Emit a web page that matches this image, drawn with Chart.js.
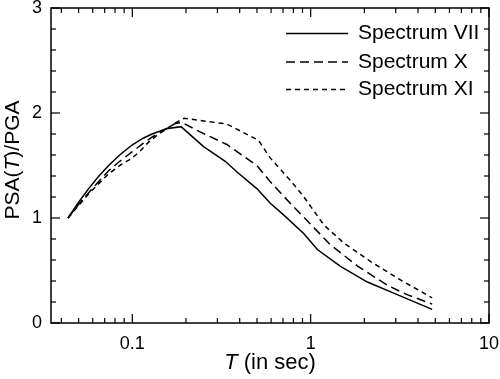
<!DOCTYPE html>
<html>
<head>
<meta charset="utf-8">
<script src="https://cdn.jsdelivr.net/npm/chart.js@4/dist/chart.umd.min.js"></script>
<style>
html,body{margin:0;padding:0;background:#fff}
#wrap{width:500px;height:379px;position:relative}
</style>
</head>
<body>
<div id="wrap"><canvas id="c" width="500" height="379"></canvas></div>
<script>
// ---- data ----
const seriesNames = ['Spectrum VII', 'Spectrum X', 'Spectrum XI'];

const periodsVII = [0.0436, 0.05, 0.0569, 0.065, 0.0736, 0.085, 0.0996, 0.115, 0.129, 0.155, 0.1875, 0.251, 0.332, 0.385, 0.499, 0.594, 0.705, 0.917, 1.09, 1.47, 2.08, 3.06, 4.8];
const psaVII     = [1.0,    1.15, 1.28,   1.40,  1.50,   1.60,  1.695,  1.76,  1.80,  1.85,  1.87,   1.68,  1.54,  1.44,  1.28,  1.14,  1.03,  0.85,  0.70, 0.54, 0.39, 0.27, 0.13];

const periodsX = [0.0436, 0.05, 0.0569, 0.065, 0.0736, 0.085, 0.0996, 0.115, 0.129, 0.155, 0.174, 0.19, 0.24, 0.339, 0.499, 0.594, 0.768, 1.0, 1.29, 1.84, 2.69, 3.47, 4.8];
const psaX     = [1.0,    1.13, 1.24,   1.35,  1.45,   1.54,  1.63,   1.71,  1.77,  1.85,  1.90,  1.91, 1.82, 1.70,  1.50,  1.345, 1.14,  0.94, 0.745, 0.54, 0.36, 0.27, 0.18];

const periodsXI = [0.0436, 0.05, 0.0569, 0.065, 0.0736, 0.085, 0.0996, 0.111, 0.123, 0.138, 0.153, 0.172, 0.195, 0.339, 0.51, 0.594, 0.768, 0.917, 1.19, 1.54, 2.17, 3.19, 4.8];
const psaXI     = [1.0,    1.12, 1.23,   1.33,  1.42,   1.50,  1.57,   1.64,  1.72,  1.79,  1.84,  1.90,  1.95,  1.895, 1.74, 1.57,  1.36,  1.20,  0.93, 0.76, 0.585, 0.41, 0.24];

const xTickValues = [0.1, 1, 10];
const yTickValues = [0, 1, 2, 3];
const xMinorTicks = [0.04, 0.05, 0.06, 0.07, 0.08, 0.09, 0.2, 0.3, 0.4, 0.5, 0.6, 0.7, 0.8, 0.9, 2, 3, 4, 5, 6, 7, 8, 9];
const yMinorTicks = [0.2, 0.4, 0.6, 0.8, 1.2, 1.4, 1.6, 1.8, 2.2, 2.4, 2.6, 2.8];

// ---- styling ----
const FONT = '"Liberation Sans", Arial, Helvetica, sans-serif';
const toPts = (xs, ys) => xs.map((x, i) => ({x: x, y: ys[i]}));

const datasets = [
  {label: seriesNames[0], data: toPts(periodsVII, psaVII), borderDash: []},
  {label: seriesNames[1], data: toPts(periodsX, psaX), borderDash: [9, 5]},
  {label: seriesNames[2], data: toPts(periodsXI, psaXI), borderDash: [5, 4]}
].map(d => Object.assign(d, {
  borderColor: '#000', backgroundColor: '#000', borderWidth: 1.5,
  pointRadius: 0, tension: 0, fill: false
}));

const framePlugin = {
  id: 'frame',
  afterDraw(chart) {
    const ctx = chart.ctx;
    const a = chart.chartArea;
    const xs = chart.scales.x, ys = chart.scales.y;
    ctx.save();
    ctx.strokeStyle = '#000';
    ctx.lineWidth = 1.5;
    ctx.setLineDash([]);
    ctx.strokeRect(a.left, a.top, a.right - a.left, a.bottom - a.top);
    ctx.lineWidth = 1.2;
    const tick = (x1, y1, x2, y2) => { ctx.beginPath(); ctx.moveTo(x1, y1); ctx.lineTo(x2, y2); ctx.stroke(); };
    const MAJ = 9, MIN = 5;
    xTickValues.forEach(v => { const p = xs.getPixelForValue(v); tick(p, a.bottom, p, a.bottom - MAJ); tick(p, a.top, p, a.top + MAJ); });
    xMinorTicks.forEach(v => { const p = xs.getPixelForValue(v); tick(p, a.bottom, p, a.bottom - MIN); tick(p, a.top, p, a.top + MIN); });
    yTickValues.forEach(v => { const p = ys.getPixelForValue(v); tick(a.left, p, a.left + MAJ, p); tick(a.right, p, a.right - MAJ, p); });
    yMinorTicks.forEach(v => { const p = ys.getPixelForValue(v); tick(a.left, p, a.left + MIN, p); tick(a.right, p, a.right - MIN, p); });

    // axis titles with italic T
    ctx.fillStyle = '#000';
    ctx.textBaseline = 'middle';
    const drawParts = (parts, cx, cy) => {
      let total = 0;
      parts.forEach(p => { ctx.font = p.f; p.w = ctx.measureText(p.t).width; total += p.w; });
      let x = cx - total / 2;
      ctx.textAlign = 'left';
      parts.forEach(p => { ctx.font = p.f; ctx.fillText(p.t, x, cy); x += p.w; });
    };
    const N2 = '22px ' + FONT, I2 = 'italic 22px ' + FONT;
    drawParts([{t: 'T', f: I2}, {t: ' (in sec)', f: N2}], (a.left + a.right) / 2, 363);
    const N1 = '21px ' + FONT, I1 = 'italic 21px ' + FONT;
    ctx.save();
    ctx.translate(13, 160);
    ctx.rotate(-Math.PI / 2);
    drawParts([{t: 'PSA(', f: N1}, {t: 'T', f: I1}, {t: ')/PGA', f: N1}], 0, 0);
    ctx.restore();

    // legend
    const rows = [33.5, 62, 89.5];
    ctx.font = '21px ' + FONT;
    chart.data.datasets.forEach((d, i) => {
      ctx.lineWidth = 1.5;
      ctx.setLineDash(d.borderDash);
      tick(286, rows[i], 348, rows[i]);
      ctx.setLineDash([]);
      ctx.fillText(d.label, 358, rows[i]);
    });
    ctx.restore();
  }
};

new Chart(document.getElementById('c'), {
  type: 'line',
  data: {datasets: datasets},
  options: {
    responsive: false,
    devicePixelRatio: 1,
    animation: false,
    layout: {padding: {top: 8, right: 11, left: 0, bottom: 0}},
    plugins: {legend: {display: false}, tooltip: {enabled: false}, title: {display: false}},
    scales: {
      x: {
        type: 'logarithmic', min: 0.035, max: 10,
        afterBuildTicks: s => { s.ticks = xTickValues.map(v => ({value: v})); },
        afterFit: s => { s.height = 56; s.paddingLeft = 0; s.paddingRight = 0; },
        ticks: {color: '#000', font: {family: FONT, size: 18}, padding: 10, maxRotation: 0, autoSkip: false,
                callback: v => String(v)},
        grid: {display: false, drawTicks: false},
        border: {display: false}
      },
      y: {
        type: 'linear', min: 0, max: 3,
        afterBuildTicks: s => { s.ticks = yTickValues.map(v => ({value: v})); },
        afterFit: s => { s.width = 51; s.paddingTop = 0; s.paddingBottom = 0; },
        ticks: {color: '#000', font: {family: FONT, size: 18}, padding: 9, callback: v => String(v)},
        grid: {display: false, drawTicks: false},
        border: {display: false}
      }
    }
  },
  plugins: [framePlugin]
});
</script>
</body>
</html>
